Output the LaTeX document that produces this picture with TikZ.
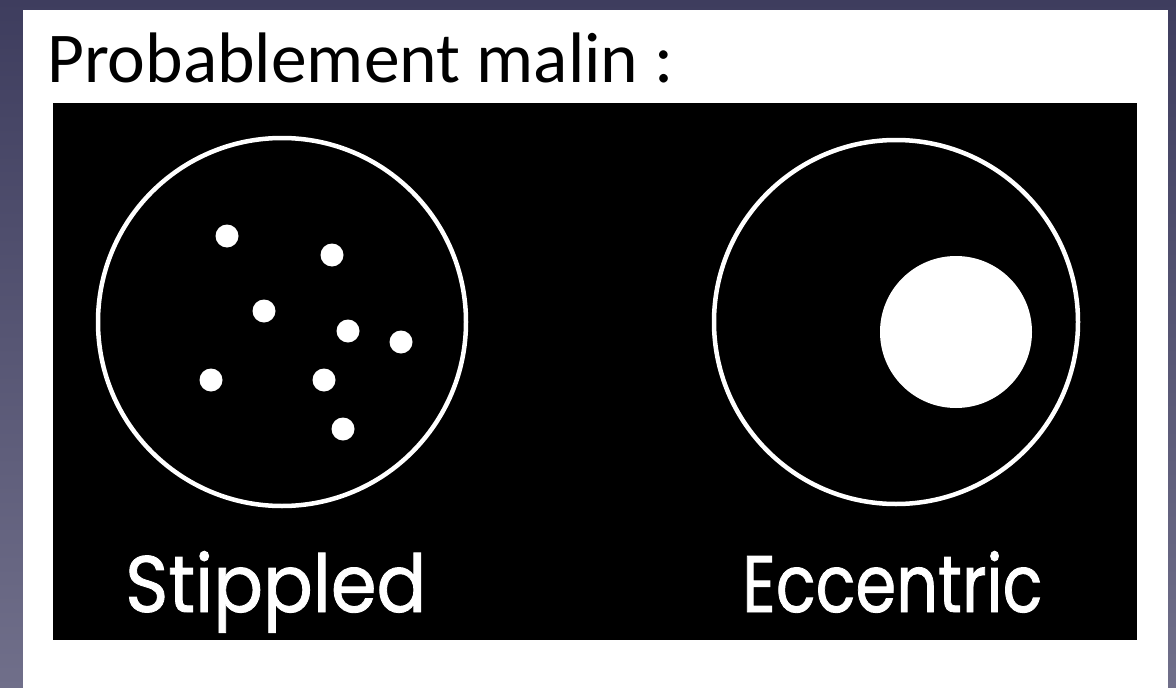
\documentclass[tikz,border=0pt]{standalone}
\usepackage{fontspec}
\setmainfont{Carlito}
\newfontfamily\labelfont[FakeBold=1.1]{Poppins}
\begin{document}
\begin{tikzpicture}[x=1pt,y=-1pt,
  ring/.style={draw=white,line width=4.5pt},
  dot/.style={fill=white},
  caption/.style={text=white,font=\labelfont\fontsize{80}{80}\selectfont,anchor=base west,inner sep=0pt}]
\useasboundingbox (0,0) rectangle (1176,688);
\shade[top color={rgb,255:red,62;green,61;blue,94},bottom color={rgb,255:red,112;green,111;blue,138}] (0,0) rectangle (1176,688);
\fill[white] (23,10) rectangle (1168,688);
\node[anchor=base west,inner sep=0pt,font=\fontsize{71.5}{71.5}\selectfont] (title) at (47,82) {Probablement malin :};
\fill[black] (53,103) rectangle (1137,640);
\draw[ring] (282,322) circle (184);
\foreach \x/\y in {227/236,332/255,264/311,348/331,401/342,211/380,324/380,343/429}
  \fill[dot] (\x,\y) circle (11.5);
\draw[ring] (896,322) circle (182);
\fill[white] (956,332) circle (76);
\node[caption] (stip) at (125,612) {\scalebox{0.92}[1]{Stippled}};
\node[caption] (ecc) at (742,612) {\scalebox{0.82}[1]{Eccentric}};
\end{tikzpicture}
\end{document}
